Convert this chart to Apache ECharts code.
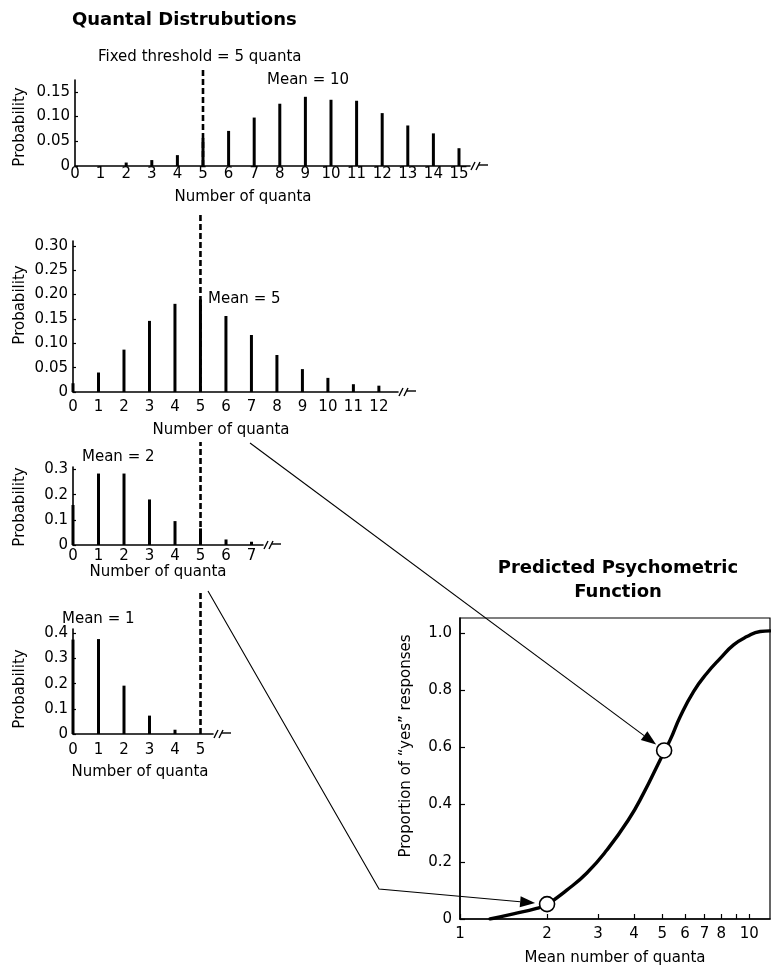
<!DOCTYPE html>
<html><head><meta charset="utf-8">
<script src="https://cdn.jsdelivr.net/npm/echarts@6/dist/echarts.min.js"></script>
<style>html,body{margin:0;padding:0;background:#fff}#c{width:771px;height:971px}</style>
</head><body><div id="c"></div>
<script>
// ---------------- data ----------------
const threshold = 5;
const mean10X = [2,3,4,5,6,7,8,9,10,11,12,13,14,15];
const mean10Y = [0.007,0.012,0.022,0.056,0.071,0.098,0.126,0.140,0.134,0.132,0.107,0.082,0.066,0.036];
const mean5X = [0,1,2,3,4,5,6,7,8,9,10,11,12];
const mean5Y = [0.018,0.040,0.087,0.146,0.181,0.190,0.156,0.117,0.076,0.047,0.029,0.016,0.013];
const mean2X = [0,1,2,3,4,5,6,7];
const mean2Y = [0.159,0.284,0.284,0.181,0.095,0.066,0.022,0.013];
const mean1X = [0,1,2,3,4];
const mean1Y = [0.375,0.377,0.192,0.073,0.017];
const psychX = [1.27,1.53,1.84,2.0,2.34,2.74,3.22,3.82,4.31,4.92,5.33,5.77,6.42,7.14,7.94,8.83,9.82,10.91,11.8];
const psychY = [0,0.018,0.037,0.051,0.101,0.16,0.241,0.346,0.439,0.556,0.626,0.707,0.795,0.859,0.911,0.958,0.987,1.005,1.007];
const circleX = [2, 5.08];
const circleY = [0.052, 0.589];
const psychXTickLabels = [1,2,3,4,5,6,7,8,10];
const psychXTicks = [1,2,3,4,5,6,7,8,9,10];

// ---------------- helpers ----------------
const FONT = 'DejaVu Sans';
const BLACK = '#000';
const chart = echarts.init(document.getElementById('c'), null, {renderer:'canvas', width:771, height:971});
const pairs = (xs, ys) => xs.map((x,i)=>[x, ys[i]]);

const dists = [
  {grid:{left:75, top:80, width:395, height:86},  xmax:15.43, ymax:0.174, step:0.05, dec:2, xs:mean10X, ys:mean10Y, lm:1, dashTop:0.196},
  {grid:{left:73, top:241, width:325, height:151}, xmax:12.75, ymax:0.31, step:0.05, dec:2, xs:mean5X, ys:mean5Y, lm:8, dashTop:0.369},
  {grid:{left:73, top:467, width:190, height:78},  xmax:7.45, ymax:0.31, step:0.1, dec:1, xs:mean2X, ys:mean2Y, lm:4, dashTop:0.409},
  {grid:{left:73, top:629, width:140, height:105}, xmax:5.49, ymax:0.417, step:0.1, dec:1, xs:mean1X, ys:mean1Y, lm:9, dashTop:0.565}
];

const grids = [], xAxes = [], yAxes = [], series = [];
dists.forEach((d, i) => {
  grids.push(Object.assign({containLabel:false}, d.grid));
  xAxes.push({
    type:'value', gridIndex:i, min:0, max:d.xmax, interval:1,
    axisLine:{show:true, onZero:false, lineStyle:{color:BLACK, width:1.6}},
    axisTick:{show:false}, splitLine:{show:false},
    axisLabel:{color:BLACK, fontFamily:FONT, fontSize:15, margin:d.lm, showMaxLabel:false,
      formatter:v => Number.isInteger(v) ? String(v) : ''}
  });
  yAxes.push({
    type:'value', gridIndex:i, min:0, max:d.ymax, interval:d.step,
    axisLine:{show:true, onZero:false, lineStyle:{color:BLACK, width:1.6}},
    axisTick:{show:true, inside:true, length:3, lineStyle:{color:BLACK, width:1.2}},
    splitLine:{show:false},
    axisLabel:{color:BLACK, fontFamily:FONT, fontSize:15, margin:5, showMaxLabel:false,
      formatter:v => { const k = Math.round(v/d.step); if (Math.abs(v-k*d.step) > 1e-6) return ''; return k===0 ? '0' : (k*d.step).toFixed(d.dec); }}
  });
  series.push({
    type:'bar', xAxisIndex:i, yAxisIndex:i, data:pairs(d.xs, d.ys), barWidth:3,
    itemStyle:{color:BLACK}, silent:true, z:2
  });
  series.push({
    type:'line', xAxisIndex:i, yAxisIndex:i, data:[[threshold,0],[threshold,d.dashTop]],
    symbol:'none', clip:false, silent:true, z:3,
    lineStyle:{color:BLACK, width:2.6, type:[6,3]}
  });
});

// psychometric grid
grids.push({left:460, top:618, width:310, height:301, show:true, borderColor:BLACK, borderWidth:1.2});
xAxes.push({
  type:'log', logBase:10, gridIndex:4, min:1, max:11.8,
  axisLine:{show:true, onZero:false, lineStyle:{color:BLACK, width:1.6}},
  axisTick:{show:true, inside:true, length:5, customValues:psychXTicks, lineStyle:{color:BLACK, width:1.2}},
  minorTick:{show:false}, splitLine:{show:false},
  axisLabel:{color:BLACK, fontFamily:FONT, fontSize:15, margin:8, customValues:psychXTickLabels},
  name:'Mean number of quanta', nameLocation:'middle', nameGap:32,
  nameTextStyle:{color:BLACK, fontFamily:FONT, fontSize:15}
});
yAxes.push({
  type:'value', gridIndex:4, min:0, max:1.052, interval:0.2,
  axisLine:{show:true, onZero:false, lineStyle:{color:BLACK, width:1.6}},
  axisTick:{show:true, inside:true, length:5, lineStyle:{color:BLACK, width:1.2}},
  splitLine:{show:false},
  axisLabel:{color:BLACK, fontFamily:FONT, fontSize:15, margin:8, showMaxLabel:false,
    formatter:v => { const k = Math.round(v/0.2); if (Math.abs(v-k*0.2) > 1e-6) return ''; return k===0 ? '0' : (k*0.2).toFixed(1); }}
});
series.push({
  type:'line', xAxisIndex:4, yAxisIndex:4, data:pairs(psychX, psychY), smooth:0.5,
  symbol:'none', silent:true, z:2, lineStyle:{color:BLACK, width:3.4, cap:'round', join:'round'}
});
series.push({
  type:'scatter', xAxisIndex:4, yAxisIndex:4, data:pairs(circleX, circleY), symbol:'circle', symbolSize:15,
  silent:true, z:4, itemStyle:{color:'#fff', opacity:1, borderColor:BLACK, borderWidth:1.6}
});

chart.setOption({
  animation:false, backgroundColor:'#fff',
  grid:grids, xAxis:xAxes, yAxis:yAxes, series:series
});

// ---------------- annotations ----------------
const g = [];
function txt(text, x, y, opt) {
  opt = opt || {};
  g.push({type:'text', x:x, y:y, rotation:opt.rot || 0, z:20, silent:true,
    style:{text:text, fill:BLACK, fontFamily:FONT, fontSize:opt.size || 15, fontWeight:opt.bold ? 'bold' : 'normal',
      align:opt.align || 'center', verticalAlign:'middle'}});
}
txt('Quantal Distrubutions', 72, 20, {bold:true, size:18, align:'left'});
txt('Fixed threshold = 5 quanta', 98, 57, {align:'left'});
txt('Mean = 10', 267, 80, {align:'left'});
txt('Mean = 5', 208, 299, {align:'left'});
txt('Mean = 2', 82, 457, {align:'left'});
txt('Mean = 1', 62, 619, {align:'left'});
txt('Predicted Psychometric', 618, 568, {bold:true, size:18});
txt('Function', 618, 592, {bold:true, size:18});
txt('Proportion of \u201cyes\u201d responses', 406, 746, {rot:Math.PI/2});
[[243,197],[221,430],[158,572],[140,772]].forEach(p => txt('Number of quanta', p[0], p[1]));
[[20,127],[20,305],[20,507],[20,689]].forEach(p => txt('Probability', p[0], p[1], {rot:Math.PI/2}));

// axis breaks
dists.forEach((d, i) => {
  const e = chart.convertToPixel({gridIndex:i}, [d.xmax, 0]);
  const ls = {stroke:BLACK, lineWidth:1.4};
  g.push({type:'line', silent:true, z:20, shape:{x1:e[0]+1, y1:e[1]+4, x2:e[0]+5, y2:e[1]-4}, style:ls});
  g.push({type:'line', silent:true, z:20, shape:{x1:e[0]+6, y1:e[1]+4, x2:e[0]+10, y2:e[1]-4}, style:ls});
  g.push({type:'line', silent:true, z:20, shape:{x1:e[0]+9, y1:e[1]-1, x2:e[0]+18, y2:e[1]-1}, style:ls});
});

// arrows
function arrow(points, target, gap) {
  const prev = points[points.length-1];
  const dx = target[0]-prev[0], dy = target[1]-prev[1];
  const L = Math.hypot(dx, dy), ux = dx/L, uy = dy/L;
  const tip = [target[0]-gap*ux, target[1]-gap*uy];
  const hl = 15, hw = 5.5;
  const base = [tip[0]-hl*ux, tip[1]-hl*uy];
  const nx = -uy, ny = ux;
  g.push({type:'polyline', silent:true, z:15, shape:{points:points.concat([base])}, style:{stroke:BLACK, lineWidth:1.1, fill:null}});
  g.push({type:'polygon', silent:true, z:15, shape:{points:[tip,[base[0]+hw*nx, base[1]+hw*ny],[base[0]-hw*nx, base[1]-hw*ny]]}, style:{fill:BLACK}});
}
const c5 = chart.convertToPixel({gridIndex:4}, [circleX[1], circleY[1]]);
const c2 = chart.convertToPixel({gridIndex:4}, [circleX[0], circleY[0]]);
arrow([[250,443]], c5, 10);
arrow([[208,591],[379,889]], c2, 12);

chart.setOption({graphic:g});
</script>
</body></html>
